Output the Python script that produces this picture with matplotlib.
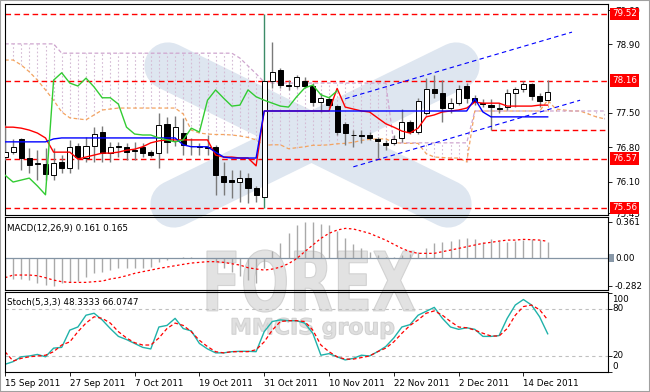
# USDJPY daily with Ichimoku, MACD and Stochastic (MT4 style screenshot)

import numpy as np
import matplotlib.pyplot as plt
from matplotlib.patches import Rectangle, PathPatch
from matplotlib.textpath import TextPath
from matplotlib.font_manager import FontProperties
from matplotlib.transforms import Affine2D

plt.rcParams['font.family'] = ['DejaVu Sans']

# Candles, 15 Sep 2011 .. 19 Dec 2011
opens = [76.60, 76.70, 76.97, 76.58, 76.46, 76.46, 76.23, 76.50, 76.38, 76.83,
         76.58, 76.83, 77.11, 76.68, 76.83, 76.81, 76.74, 76.81, 76.70, 76.68,
         77.28, 76.93, 77.09, 76.83, 76.83, 76.81, 76.81, 76.21, 76.13, 76.09,
         76.17, 75.97, 75.78, 78.15, 78.38, 78.07, 78.05, 78.15, 78.05, 77.72,
         77.79, 77.64, 77.28, 77.05, 77.05, 77.05, 76.97, 76.89, 76.89, 76.99,
         77.32, 77.11, 77.50, 77.99, 77.91, 77.60, 77.70, 78.05, 77.81, 77.70,
         77.66, 77.60, 77.62, 77.91, 77.99, 78.09, 77.85, 77.76]
highs = [77.25, 76.97, 76.99, 76.79, 76.74, 76.79, 76.79, 76.64, 76.95, 76.89,
         77.01, 77.21, 77.23, 76.91, 76.91, 76.89, 76.91, 76.89, 76.74, 77.50,
         77.42, 77.44, 77.40, 76.99, 76.89, 77.05, 76.85, 76.50, 76.34, 76.34,
         76.28, 76.01, 79.52, 78.95, 78.42, 78.17, 78.27, 78.23, 78.11, 77.91,
         77.85, 77.66, 77.32, 77.15, 77.15, 77.11, 77.01, 76.95, 77.05, 77.58,
         77.36, 77.81, 78.21, 78.28, 78.17, 77.81, 78.07, 78.11, 77.87, 77.79,
         77.79, 77.70, 77.99, 78.03, 78.15, 78.11, 77.91, 78.17]
lows = [76.54, 76.66, 76.34, 76.28, 76.13, 76.13, 76.13, 76.28, 76.28, 76.36,
        76.50, 76.50, 76.50, 76.50, 76.60, 76.54, 76.54, 76.60, 76.60, 76.38,
        76.68, 76.83, 76.64, 76.64, 76.64, 76.64, 75.83, 75.83, 75.77, 75.68,
        75.66, 75.68, 75.56, 78.01, 78.01, 77.97, 78.01, 78.01, 77.64, 77.52,
        77.60, 77.05, 76.85, 76.81, 76.89, 76.95, 76.58, 76.74, 76.85, 76.91,
        77.07, 77.07, 77.46, 77.81, 77.32, 77.50, 77.66, 77.70, 77.66, 77.62,
        77.15, 77.50, 77.56, 77.62, 77.93, 77.76, 77.62, 77.76]
closes = [76.70, 76.81, 76.58, 76.44, 76.48, 76.25, 76.48, 76.38, 76.81, 76.60,
          76.83, 77.07, 76.68, 76.81, 76.81, 76.70, 76.72, 76.68, 76.64, 77.25,
          76.91, 77.21, 76.85, 76.82, 76.81, 76.79, 76.23, 76.09, 76.09, 76.17,
          75.97, 75.83, 78.16, 78.34, 78.07, 78.05, 78.23, 78.05, 77.72, 77.81,
          77.66, 77.11, 77.09, 77.04, 77.03, 76.99, 76.93, 76.85, 76.97, 77.32,
          77.11, 77.74, 77.99, 77.91, 77.60, 77.70, 77.99, 77.81, 77.72, 77.69,
          77.62, 77.58, 77.91, 77.99, 78.09, 77.85, 77.74, 77.93]

# Ichimoku lines
tenkan = [77.21, 77.21, 77.19, 77.15, 77.09, 76.99, 76.70, 76.70, 76.70, 76.56,
          76.60, 76.64, 76.68, 76.68, 76.70, 76.74, 76.76, 76.81, 76.89, 76.93,
          76.95, 76.95, 76.95, 76.95, 76.95, 76.95, 76.64, 76.60, 76.60, 76.58,
          76.58, 76.42, 77.54, 77.54, 77.54, 77.54, 77.54, 77.54, 77.54, 77.54,
          77.54, 78.00, 77.62, 77.58, 77.54, 77.52, 77.40, 77.28, 77.21, 77.13,
          77.09, 77.19, 77.42, 77.46, 77.52, 77.54, 77.56, 77.60, 77.72, 77.70,
          77.70, 77.70, 77.64, 77.64, 77.64, 77.64, 77.66, 77.66]
kijun = [76.91, 76.91, 76.91, 76.91, 76.91, 76.91, 76.97, 76.99, 76.99, 76.99,
         76.99, 76.99, 76.99, 76.99, 76.99, 76.99, 76.99, 76.99, 76.99, 76.99,
         76.99, 76.99, 76.85, 76.81, 76.81, 76.81, 76.70, 76.60, 76.58, 76.58,
         76.58, 76.58, 77.54, 77.54, 77.54, 77.54, 77.54, 77.54, 77.54, 77.54,
         77.54, 77.54, 77.54, 77.54, 77.54, 77.54, 77.54, 77.54, 77.54, 77.54,
         77.54, 77.54, 77.54, 77.54, 77.54, 77.54, 77.54, 77.54, 77.79, 77.52,
         77.42, 77.42, 77.42, 77.42, 77.42, 77.42, 77.42, 77.42]
chikou = [76.23, 76.09, 76.13, 76.17, 76.01, 75.83, 78.17, 78.32, 78.11, 78.05,
          78.21, 78.03, 77.81, 77.81, 77.68, 77.21, 77.07, 77.05, 77.05, 76.99,
          76.95, 76.91, 76.95, 77.19, 77.11, 77.76, 77.97, 77.80, 77.64, 77.66,
          77.97, 77.83, 77.76, 77.70, 77.64, 77.62, 77.83, 78.01, 78.07, 77.87,
          77.81, 77.95]
span_a = [78.58, 78.58, 78.48, 78.34, 78.17, 77.97, 77.76, 77.52, 77.40, 77.38,
          77.36, 77.46, 77.56, 77.58, 77.60, 77.60, 77.60, 77.60, 77.60, 77.60,
          77.60, 77.60, 77.48, 77.15, 77.09, 77.07, 77.06, 77.06, 77.05, 77.03,
          77.00, 76.95, 76.84, 76.85, 76.85, 76.77, 76.79, 76.81, 76.84, 76.84,
          76.85, 76.87, 76.88, 76.90, 76.94, 76.96, 76.97, 76.97, 76.90, 76.88,
          76.88, 76.88, 76.67, 76.60, 76.59, 76.58, 76.58, 76.50, 77.54, 77.54,
          77.54, 77.54, 77.54, 77.54, 77.54, 77.54, 77.54, 77.76, 77.58, 77.56,
          77.54, 77.54, 77.48, 77.42, 77.38]
span_b = [78.91, 78.91, 78.91, 78.91, 78.91, 78.91, 78.91, 78.72, 78.72, 78.72,
          78.72, 78.72, 78.72, 78.72, 78.72, 78.72, 78.72, 78.72, 78.72, 78.72,
          78.72, 78.72, 78.72, 78.72, 78.72, 78.72, 78.72, 78.72, 78.72, 78.62,
          78.46, 78.30, 78.13, 78.11, 78.11, 78.11, 78.11, 78.11, 78.11, 78.11,
          78.11, 78.11, 78.11, 78.11, 78.11, 78.11, 78.11, 78.11, 76.89, 76.89,
          76.89, 76.89, 76.89, 76.89, 76.89, 76.89, 76.89, 76.89, 77.54, 77.54,
          77.54, 77.54, 77.54, 77.54, 77.54, 77.54, 77.54, 77.54, 77.54, 77.54,
          77.54, 77.54, 77.54, 77.54, 77.54]

# Drawn objects: support/resistance levels and the rising channel
levels = [79.52, 78.16, 76.57, 75.56]
short_level = 77.15
short_level_from = 60
chan_upper_x, chan_upper_y = [42, 70], [77.79, 79.15]
chan_lower_x, chan_lower_y = [43, 71], [76.40, 77.76]

# MACD(12,26,9)
macd_main = [-0.192, -0.215, -0.215, -0.226, -0.259, -0.276, -0.282, -0.259, -0.249, -0.236,
             -0.192, -0.158, -0.141, -0.125, -0.108, -0.108, -0.108, -0.108, -0.091, -0.040,
             -0.024, -0.007, 0.003, 0.004, 0.002, -0.007, -0.040, -0.108, -0.141, -0.182,
             -0.226, -0.260, -0.100, 0.067, 0.150, 0.246, 0.326, 0.361, 0.361, 0.345,
             0.330, 0.270, 0.195, 0.135, 0.095, 0.055, 0.025, 0.005, 0.005, 0.027,
             0.034, 0.061, 0.100, 0.150, 0.158, 0.165, 0.189, 0.195, 0.189, 0.162,
             0.185, 0.168, 0.162, 0.168, 0.178, 0.189, 0.182, 0.161]
macd_signal = [-0.202, -0.175, -0.175, -0.175, -0.182, -0.202, -0.226, -0.242, -0.249, -0.249,
               -0.249, -0.242, -0.236, -0.215, -0.202, -0.182, -0.158, -0.141, -0.125, -0.108,
               -0.094, -0.081, -0.067, -0.054, -0.047, -0.040, -0.040, -0.047, -0.061, -0.074,
               -0.101, -0.114, -0.125, -0.115, -0.095, -0.060, -0.010, 0.061, 0.128, 0.195,
               0.246, 0.279, 0.296, 0.290, 0.269, 0.246, 0.212, 0.178, 0.135, 0.094,
               0.061, 0.044, 0.044, 0.044, 0.061, 0.077, 0.094, 0.111, 0.128, 0.145,
               0.155, 0.168, 0.178, 0.178, 0.185, 0.182, 0.178, 0.165]

# Stochastic(5,3,3)
stoch_k = [9.4, 12.8, 19, 20, 22, 19, 30, 31, 53, 57,
           72, 74.5, 66, 55, 45, 41, 36, 31, 29, 57,
           59, 68, 55, 52, 36, 29, 24, 24, 25.5, 26,
           26, 25.5, 51, 64, 66, 65, 65, 62, 49, 21,
           23, 19, 15, 17, 21, 20, 25.5, 32, 43, 57,
           60, 72, 77, 82, 68, 57, 54, 56, 54, 45,
           45, 46, 68, 85, 92, 85, 70, 48.33]
stoch_d = [25.5, 13.6, 17, 19, 20, 21, 25.5, 34, 38, 51,
           62, 70, 68, 62, 51, 43, 37, 34, 34, 43,
           55, 62, 59, 51, 40, 32, 25.5, 24, 25.5, 25.5,
           25.5, 28, 38, 53, 64, 65, 65, 64, 53, 34,
           25.5, 19, 16, 16, 18, 20, 25.5, 30, 38, 49,
           59, 66, 74.5, 77.5, 72, 64, 57, 56, 53, 49,
           45.5, 45.5, 55, 72, 83, 85, 79, 66.07]

date_pos = [0, 8, 16, 24, 32, 40, 48, 56, 64]
date_labels = ['15 Sep 2011', '27 Sep 2011', '7 Oct 2011', '19 Oct 2011', '31 Oct 2011',
               '10 Nov 2011', '22 Nov 2011', '2 Dec 2011', '14 Dec 2011']
price_ticks = [79.60, 78.90, 77.50, 76.80, 76.10, 75.45]

FS = 6.3
W, H = 650, 392

fig = plt.figure(figsize=(6.5, 3.92), dpi=100)


def fx(px):
    return px / W


def fy(py):
    return 1 - py / H


def px_box(top, bottom, left=5, right=608):
    return [fx(left), fy(bottom), (right - left) / W, (bottom - top) / H]


# watermark behind the panels
for (x0, y0), (x1, y1) in [((168, 66), (448, 204)), ((456, 66), (174, 204))]:
    fig.add_artist(plt.Line2D([fx(x0), fx(x1)], [fy(y0), fy(y1)], transform=fig.transFigure,
                              color='#dee6f0', lw=34, solid_capstyle='round', zorder=-2))


def text_block(s, x0, y0, x1, y1, weight, fc):
    tp = TextPath((0, 0), s, size=1, prop=FontProperties(family='DejaVu Sans', weight=weight))
    ext = tp.get_extents()
    tr = (Affine2D().translate(-ext.x0, -ext.y0)
          .scale((x1 - x0) / ext.width / W, (y1 - y0) / ext.height / H)
          .translate(fx(x0), fy(y1)))
    fig.add_artist(PathPatch(tr.transform_path(tp), transform=fig.transFigure,
                             fc=fc, ec='#d2d2d2', lw=0.8, zorder=-1))


text_block('FOREX', 207, 250, 415, 312, 'bold', '#e2e2e2')
text_block('MMCIS group', 232, 318, 394, 339, 'bold', '#e0e0e0')

ax = fig.add_axes(px_box(4, 215))
ax_m = fig.add_axes(px_box(217, 290))
ax_s = fig.add_axes(px_box(292, 372))

xmax = 603 / 8.1
for a in (ax, ax_m, ax_s):
    a.set_facecolor('none')
    a.set_xlim(0, xmax)
    for sp in a.spines.values():
        sp.set_linewidth(0.8)
        sp.set_color('black')
    a.yaxis.tick_right()
    a.tick_params(axis='y', labelsize=FS, length=3, pad=2, width=0.6)

# ---- main panel
idx = np.arange(len(opens))
xs = np.arange(len(span_a))
sa = np.array(span_a)
sb = np.array(span_b)
hatch_cols = np.where(sa >= sb, '#f4a460', '#d5bcd5')
ax.vlines(xs, np.minimum(sa, sb), np.maximum(sa, sb), colors=hatch_cols,
          linestyles=(0, (1.5, 2)), lw=0.8, zorder=1)
ax.plot(xs, span_a, color='#f4a460', ls=(0, (3, 2)), lw=0.9, zorder=2)
ax.plot(xs, span_b, color='#cfa6cf', ls=(0, (3, 2)), lw=0.9, zorder=2)

for lv in levels:
    ax.axhline(lv, color='#ff0000', ls=(0, (4, 2.5)), lw=1.0, zorder=2)
ax.hlines(short_level, short_level_from, xmax, color='#ff0000', ls=(0, (4, 2.5)), lw=1.0,
          zorder=2)

for i in idx:
    o, h, l, c = opens[i], highs[i], lows[i], closes[i]
    wick = '#3c8c68' if i == 32 else '#7a7a7a'
    ax.vlines(i, l, h, color=wick, lw=1, zorder=3)
    bottom = min(o, c)
    height = max(abs(c - o), 0.012)
    ax.add_patch(Rectangle((i - 0.31, bottom), 0.62, height,
                           fc='white' if c >= o else 'black', ec='black', lw=0.7, zorder=4))

ax.plot(idx, tenkan, color='red', lw=1, zorder=5)
ax.plot(idx, kijun, color='blue', lw=1, zorder=5)
ax.plot(np.arange(len(chikou)), chikou, color='#33cc33', lw=1, zorder=5)
ax.plot(chan_upper_x, chan_upper_y, color='blue', ls=(0, (4, 3)), lw=0.8, zorder=5)
ax.plot(chan_lower_x, chan_lower_y, color='blue', ls=(0, (4, 3)), lw=0.8, zorder=5)

ax.set_ylim(75.417, 79.724)
ax.set_xticks([])
ax.set_yticks(price_ticks)
ax.set_yticklabels([f'{v:.2f}' for v in price_ticks])
for lv in levels:
    ax.text(1.0066, lv, f'{lv:.2f}', transform=ax.get_yaxis_transform(), fontsize=FS,
            color='white', ha='left', va='center', zorder=10, clip_on=False,
            bbox=dict(boxstyle='square,pad=0.22', fc='red', ec='none'))

# ---- MACD panel
ax_m.vlines(idx, 0, macd_main, color='#a9a9a9', lw=1)
ax_m.axhline(0, color='#8494a4', lw=0.9)
ax_m.plot(idx, macd_signal, color='red', ls=(0, (2, 2)), lw=0.9)
ax_m.set_ylim(-0.326, 0.411)
ax_m.set_xticks([])
ax_m.set_yticks([0.361, 0.0, -0.282])
ax_m.set_yticklabels(['0.361', '0.00', '-0.282'])
ax_m.text(2 / 603, 1 - 11 / 73, 'MACD(12,26,9) 0.161 0.165', transform=ax_m.transAxes,
          fontsize=FS, va='center', ha='left')
fig.add_artist(Rectangle((fx(609), fy(262)), 5 / W, 8 / H, transform=fig.transFigure,
                         fc='#8898a8', ec='none', zorder=5))

# ---- Stochastic panel
ax_s.axhline(80, color='#c0c0c0', ls=(0, (3, 3)), lw=0.8)
ax_s.axhline(20, color='#c0c0c0', ls=(0, (3, 3)), lw=0.8)
ax_s.plot(idx, stoch_k, color='#20b2aa', lw=1)
ax_s.plot(idx, stoch_d, color='red', ls=(0, (3, 2)), lw=0.9)
ax_s.set_ylim(-0.4, 101.6)
ax_s.set_yticks([100, 80, 20, 0])
ax_s.set_yticklabels([])
for lab, v in [('100', 92), ('80', 80), ('20', 20), ('0', 7)]:
    ax_s.text(1.0066, v, lab, transform=ax_s.get_yaxis_transform(), fontsize=FS,
              ha='left', va='center', clip_on=False)
ax_s.text(2 / 603, 1 - 10 / 80, 'Stoch(5,3,3) 48.3333 66.0747', transform=ax_s.transAxes,
          fontsize=FS, va='center', ha='left')
ax_s.set_xticks(date_pos)
ax_s.set_xticklabels(date_labels, ha='left', fontsize=FS)
ax_s.tick_params(axis='x', length=3, pad=2, width=0.6)

fig.add_artist(Rectangle((0, 0), 1, 1, transform=fig.transFigure, fill=False,
                         ec='#a0a0a0', lw=1.5, zorder=20))

fig.savefig('out.png', dpi=100)
